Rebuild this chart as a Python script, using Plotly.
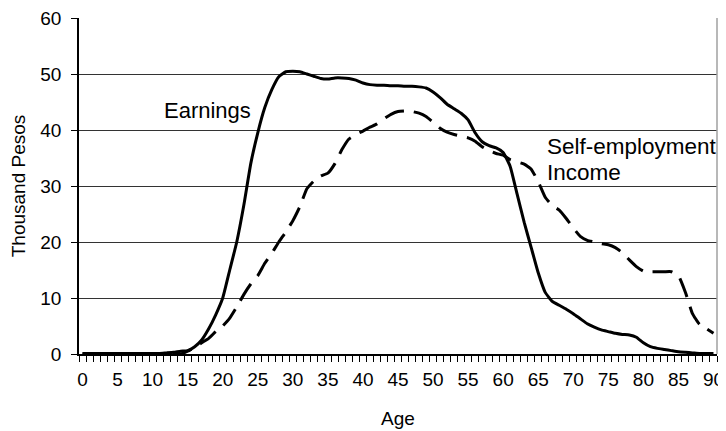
import plotly.graph_objects as go

ages = list(range(0, 91))

earnings = [
    0.1, 0.1, 0.1, 0.1, 0.1, 0.1, 0.1, 0.1, 0.1, 0.1,   # 0-9
    0.1, 0.1, 0.2, 0.3, 0.5, 0.6, 1.3, 2.5, 4.5, 7.0,   # 10-19
    10.0, 15.0, 20.0, 26.5, 34.0, 39.5, 44.0, 47.2, 49.5, 50.4,  # 20-29
    50.5, 50.4, 50.0, 49.6, 49.2, 49.1, 49.3, 49.3, 49.2, 48.9,  # 30-39
    48.4, 48.1, 48.0, 48.0, 47.9, 47.9, 47.8, 47.8, 47.7, 47.5,  # 40-49
    46.8, 45.8, 44.6, 43.8, 43.0, 41.8, 39.5, 37.9, 37.2, 36.8,  # 50-59
    36.0, 33.5, 28.5, 23.5, 19.0, 14.5, 11.0, 9.4, 8.7, 8.0,     # 60-69
    7.2, 6.3, 5.4, 4.8, 4.3, 4.0, 3.7, 3.5, 3.4, 3.0,            # 70-79
    2.0, 1.3, 1.0, 0.8, 0.6, 0.4, 0.3, 0.2, 0.1, 0.1,            # 80-89
    0.1,                                                         # 90
]

self_employment = [
    0.0, 0.0, 0.0, 0.0, 0.0, 0.0, 0.0, 0.0, 0.0, 0.0,   # 0-9
    0.0, 0.0, 0.0, 0.0, 0.0, 0.5, 1.2, 2.0, 2.8, 4.0,   # 10-19
    5.0, 6.4, 8.4, 10.6, 12.5, 14.0, 16.2, 18.0, 20.0, 21.8,     # 20-29
    23.8, 26.3, 29.5, 30.9, 31.8, 32.3, 34.0, 36.5, 38.4, 39.2,  # 30-39
    39.8, 40.5, 41.1, 42.0, 42.8, 43.3, 43.4, 43.3, 43.0, 42.4,  # 40-49
    41.4, 40.3, 39.6, 39.2, 38.9, 38.6, 38.0, 37.0, 36.3, 35.8,  # 50-59
    35.5, 34.7, 34.3, 33.9, 33.0, 30.8, 28.0, 26.5, 25.7, 24.2,  # 60-69
    22.5, 21.0, 20.3, 20.0, 19.7, 19.5, 19.0, 18.1, 16.8, 15.6,  # 70-79
    14.8, 14.7, 14.7, 14.7, 14.7, 14.0, 11.0, 7.2, 5.3, 4.5,     # 80-89
    3.7,                                                         # 90
]

x_tick_vals = list(range(0, 91, 5))
x_tick_text = [str(v) for v in x_tick_vals]
y_tick_vals = [0, 10, 20, 30, 40, 50, 60]

FONT = "Liberation Sans, Arial, sans-serif"

fig = go.Figure()
fig.add_trace(go.Scatter(
    x=ages, y=earnings, mode="lines", name="Earnings",
    line=dict(color="black", width=3, shape="spline", smoothing=0.4),
))
fig.add_trace(go.Scatter(
    x=ages, y=self_employment, mode="lines", name="Self-employment Income",
    line=dict(color="black", width=3, dash="20px,10px", shape="spline", smoothing=0.4),
))

fig.add_annotation(x=24.3, y=43.4, xref="x", yref="y", text="Earnings",
                   showarrow=False, xanchor="right", yanchor="middle",
                   font=dict(family=FONT, size=22, color="black"))
fig.add_annotation(x=65.9, y=37.0, xref="x", yref="y", text="Self-employment",
                   showarrow=False, xanchor="left", yanchor="middle",
                   font=dict(family=FONT, size=22.5, color="black"))
fig.add_annotation(x=65.9, y=32.5, xref="x", yref="y", text="Income",
                   showarrow=False, xanchor="left", yanchor="middle",
                   font=dict(family=FONT, size=22.5, color="black"))

# gray right border of plot area
fig.add_shape(type="line", xref="paper", yref="paper", x0=1, x1=1, y0=0, y1=1,
              line=dict(color="#a0a0a0", width=1.5))

fig.update_layout(
    width=726, height=431,
    margin=dict(l=71, r=17, t=10, b=85, autoexpand=False),
    paper_bgcolor="white", plot_bgcolor="white",
    showlegend=False,
    font=dict(family=FONT, size=19, color="black"),
    xaxis=dict(
        range=[-0.5, 90.5], automargin=False,
        tickmode="array", tickvals=x_tick_vals, ticktext=x_tick_text,
        ticks="", showgrid=False, zeroline=False,
        showline=True, linecolor="black", linewidth=1.5,
        tickfont=dict(family=FONT, size=19, color="black"),
        ticklabelstandoff=7, ticklabeloverflow="allow",
        minor=dict(tickmode="linear", tick0=-0.5, dtick=1, ticks="outside",
                   ticklen=6, tickcolor="black", tickwidth=1, showgrid=False),
        title=dict(text="Age", font=dict(family=FONT, size=19, color="black"), standoff=23),
        fixedrange=True,
    ),
    yaxis=dict(
        range=[0, 60], automargin=False,
        tickmode="array", tickvals=y_tick_vals,
        ticks="outside", ticklen=6, tickcolor="black", tickwidth=1,
        showgrid=True, gridcolor="#333333", gridwidth=1,
        zeroline=False,
        showline=True, linecolor="black", linewidth=1.5,
        tickfont=dict(family=FONT, size=19, color="black"),
        ticklabelstandoff=6, ticklabeloverflow="allow",
        title=dict(text="Thousand Pesos", font=dict(family=FONT, size=19, color="black"), standoff=12),
        fixedrange=True,
    ),
)

fig.write_html("out.html")
